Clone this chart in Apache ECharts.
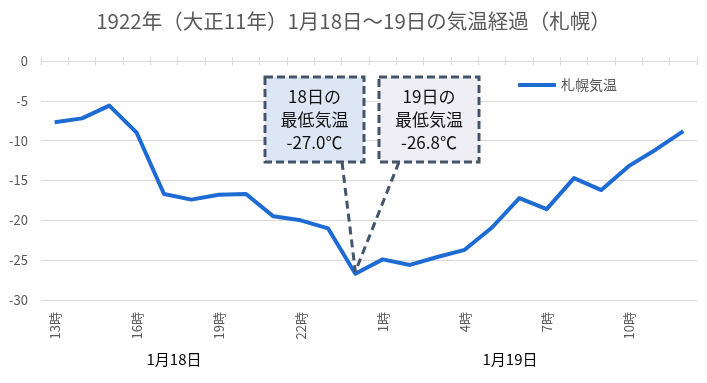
<!DOCTYPE html>
<html><head><meta charset="utf-8">
<script src="https://cdn.jsdelivr.net/npm/echarts@6/dist/echarts.min.js"></script>
<style>html,body{margin:0;padding:0;background:#fff}#c{width:707px;height:383px}</style>
</head><body><div id="c"></div>
<script>
const categories = ['13時','14時','15時','16時','17時','18時','19時','20時','21時','22時','23時','24時',
  '1時','2時','3時','4時','5時','6時','7時','8時','9時','10時','11時','12時'];
const temps = [-7.7,-7.2,-5.6,-9.0,-16.7,-17.4,-16.8,-16.7,-19.5,-20.0,-21.0,-26.7,
  -24.9,-25.6,-24.6,-23.7,-20.9,-17.2,-18.6,-14.7,-16.2,-13.2,-11.1,-8.8];
const yTicks = [0,-5,-10,-15,-20,-25,-30];
const dayLabels = ['1月18日','1月19日'];
const seriesName = '札幌気温';
const title = '1922年（大正11年）1月18日～19日の気温経過（札幌）';
const callouts = [['18日の','最低気温','-27.0℃'],['19日の','最低気温','-26.8℃']];
const minIndex = 11;

const FONT = '"Noto Sans CJK JP", "Noto Sans", sans-serif';
const chart = echarts.init(document.getElementById('c'), null, {renderer:'canvas'});
const catAxisBase = {type:'category', data:categories, boundaryGap:true};
chart.setOption({
  animation:false,
  backgroundColor:'#fff',
  title:{text:title,left:'center',top:6,textStyle:{fontFamily:FONT,fontSize:20.5,fontWeight:'normal',color:'#595959'}},
  legend:{data:[seriesName],left:513,top:73,itemWidth:38,itemHeight:4,itemGap:4,
    icon:'roundRect',
    textStyle:{fontFamily:FONT,fontSize:14,color:'#595959'}},
  grid:{left:41,right:10,top:61,bottom:83,containLabel:false},
  xAxis:[
    Object.assign({},catAxisBase,{position:'bottom',axisLine:{show:false},axisTick:{show:false},
      axisLabel:{interval:2,rotate:90,fontFamily:FONT,fontSize:13,color:'#595959',margin:12}}),
    Object.assign({},catAxisBase,{position:'top',axisLine:{show:true,onZero:false,lineStyle:{color:'#d9d9d9',width:1}},
      axisTick:{show:true,inside:true,length:4,interval:0,lineStyle:{color:'#d9d9d9'}},axisLabel:{show:false}}),
    Object.assign({},catAxisBase,{position:'top',axisLine:{show:false},
      axisTick:{show:true,inside:false,length:4,interval:0,lineStyle:{color:'#d9d9d9'}},axisLabel:{show:false}})
  ],
  yAxis:{type:'value',min:-30,max:0,interval:5,
    axisLine:{show:false},axisTick:{show:false},
    axisLabel:{fontFamily:FONT,fontSize:13,color:'#595959',margin:13,
      customValues:yTicks},
    splitLine:{lineStyle:{color:'#d9d9d9',width:1}}},
  series:[{name:seriesName,type:'line',data:temps,xAxisIndex:0,
    symbol:'none',lineStyle:{color:'#1f6bd4',width:4,join:'round'},itemStyle:{color:'#1f6bd4'}}]
});

const tip = chart.convertToPixel({seriesIndex:0},[minIndex,temps[minIndex]]);
const boxes = [
  {x:265,y:77,w:99,h:85,fill:'#dce6f4',from:[342,162]},
  {x:379,y:77,w:100,h:85,fill:'#eeeef4',from:[399,162]}
];
const border = '#44546a';
const gfx = [];
boxes.forEach((b,i)=>{
  gfx.push({type:'line',shape:{x1:b.from[0],y1:b.from[1],x2:tip[0],y2:tip[1]-2},
    style:{stroke:border,lineWidth:3,lineDash:[8,5]},z:10});
  gfx.push({type:'rect',shape:{x:b.x,y:b.y,width:b.w,height:b.h},
    style:{fill:b.fill,stroke:border,lineWidth:3,lineDash:[8,4]},z:11});
  callouts[i].forEach((t,k)=>{
    gfx.push({type:'text',x:b.x+b.w/2,y:b.y+20+k*23,
      style:{text:t,fill:'#111',font:'17px '+FONT,align:'center',verticalAlign:'middle'},z:12});
  });
});
const dayX = [174,510];
dayLabels.forEach((t,i)=>{
  gfx.push({type:'text',x:dayX[i],y:359,style:{text:t,fill:'#000',font:'15px '+FONT,align:'center',verticalAlign:'middle'},z:12});
});
chart.setOption({graphic:gfx});
</script></body></html>
